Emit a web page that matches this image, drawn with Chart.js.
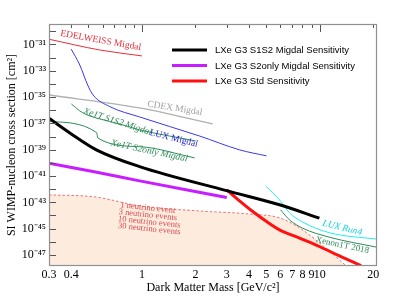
<!DOCTYPE html>
<html>
<head>
<meta charset="utf-8">
<script src="https://cdn.jsdelivr.net/npm/chart.js@4.4.0/dist/chart.umd.min.js"></script>
<style>
    html, body { margin: 0; padding: 0; background: #ffffff; }
</style>
</head>
<body>
<canvas id="limites" width="411" height="302"></canvas>
<script>
// masas en GeV/c^2, secciones eficaces en cm^2
var edelweiss_masa = [0.3, 0.58, 1.0];
var edelweiss_xs = [2.5e-31, 3.8e-32, 1.35e-32];

var lux_migdal_masa = [0.40, 0.447, 0.495, 0.531, 0.659, 0.97, 2.11, 3.54, 5.02];
var lux_migdal_xs = [4.4e-32, 2.75e-33, 8.3e-35, 1.45e-35, 1.9e-36, 3.1e-37, 1.1e-38, 9.8e-40, 3.4e-40];

var cdex_masa = [0.3, 0.97, 2.5];
var cdex_xs = [1.45e-35, 1.5e-36, 9.1e-38];

var xe1t_s1s2_masa = [0.401, 0.447, 0.508, 0.578, 0.749, 0.971, 1.43, 2.0];
var xe1t_s1s2_xs = [3.0e-36, 8.9e-37, 3.7e-37, 2.2e-37, 9.1e-38, 3.2e-38, 1.1e-38, 4.7e-39];

var xe1t_s2only_masa = [0.3, 0.556, 0.564, 0.971, 1.98];
var xe1t_s2only_xs = [1.4e-37, 2.0e-38, 7.9e-39, 1.7e-39, 2.4e-40];

var g3_s1s2_masa = [0.3, 0.393, 0.554, 0.97, 3.03, 5.94, 9.96];
var g3_s1s2_xs = [2.45e-37, 1.9e-38, 9.8e-40, 5.2e-41, 7.4e-43, 6.5e-44, 6.3e-45];

var g3_s2only_masa = [0.3, 0.53, 0.97, 3.0];
var g3_s2only_xs = [9.3e-41, 2.2e-41, 4.3e-42, 2.3e-43];

var g3_std_masa = [3.0, 3.54, 4.2, 5.0, 5.94, 7.7, 9.96, 12.9, 17.1];
var g3_std_xs = [8.9e-43, 1.3e-43, 2.0e-44, 3.6e-45, 8.1e-46, 1.9e-46, 4.4e-47, 8.5e-48, 1.55e-48];

var lux_run4_masa = [5.0, 5.94, 6.76, 8.0, 11.4, 20.9];
var lux_run4_xs = [1.6e-42, 1.55e-43, 1.6e-44, 3.2e-45, 4.8e-46, 1.6e-46];

var xenon1t_masa = [6.02, 6.76, 8.0, 11.4, 20.9];
var xenon1t_xs = [2.7e-44, 4.7e-45, 1.1e-45, 2.2e-46, 3.9e-47];

// suelo de neutrinos (1, 3, 10 y 30 eventos)
var nu1_masa = [0.3, 0.542, 0.971, 2.11, 4.03, 5.94, 7.69, 9.96, 14.1];
var nu1_xs = [3.7e-43, 2.6e-43, 5.4e-44, 2.2e-44, 1.3e-44, 6.6e-45, 1.15e-45, 8.3e-47, 1.5e-48];
var nu3_masa = [0.3, 0.542, 0.971, 2.11, 4.03, 5.94, 7.69, 9.96, 12.1];
var nu3_xs = [1.2e-43, 8.3e-44, 1.7e-44, 7.2e-45, 3.9e-45, 1.6e-45, 2.0e-46, 1.2e-47, 1.5e-48];
var nu10_masa = [0.3, 0.542, 0.971, 2.11, 4.03, 5.94, 7.69, 10.6];
var nu10_xs = [3.8e-44, 2.7e-44, 5.5e-45, 2.3e-45, 1.15e-45, 4.0e-46, 4.1e-47, 1.5e-48];
var nu30_masa = [0.3, 0.542, 0.971, 2.11, 4.03, 5.94, 7.69, 9.22];
var nu30_xs = [1.1e-44, 7.8e-45, 1.9e-45, 6.7e-46, 3.3e-46, 9.8e-47, 8.3e-48, 1.5e-48];

var x_ticks = [0.3, 0.4, 1, 2, 3, 4, 5, 6, 7, 8, 9, 10, 20];
var y_ticks = [1e-47, 1e-45, 1e-43, 1e-41, 1e-39, 1e-37, 1e-35, 1e-33, 1e-31];
var x_menores = [0.3, 0.4, 0.5, 0.6, 0.7, 0.8, 0.9, 2, 3, 4, 5, 6, 7, 8, 9, 20];
var x_mayores = [1, 10];

var etiquetas = [
    {texto: 'EDELWEISS Migdal', x: 0.586, y: 2.0e-31, ang: 10, color: '#e0303a', size: 9.5, italic: false},
    {texto: 'CDEX Migdal', x: 1.53, y: 1.4e-36, ang: 9, color: '#a0a0a0', size: 9.5, italic: false},
    {texto: 'LUX Migdal', x: 1.51, y: 7.2e-39, ang: 14, color: '#2424d8', size: 9.5, italic: false},
    {texto: 'Xe1T S1S2 Migdal', x: 0.73, y: 1.3e-37, ang: 18, color: '#2e8b57', size: 9.5, italic: true},
    {texto: 'Xe1T S2only Migdal', x: 1.10, y: 8.1e-40, ang: 12, color: '#2e8b57', size: 9.5, italic: true},
    {texto: 'LUX Run4', x: 13.4, y: 1.15e-45, ang: 14, color: '#10d0e0', size: 9.5, italic: true},
    {texto: 'Xenon1T 2018', x: 13.4, y: 5.4e-47, ang: 12, color: '#2e8b57', size: 9, italic: false},
    {texto: '1 neutrino event', x: 1.08, y: 3.8e-44, ang: 6, color: '#d84850', size: 8.5, italic: false},
    {texto: '3 neutrino events', x: 1.08, y: 1.1e-44, ang: 6, color: '#d84850', size: 8.5, italic: false},
    {texto: '10 neutrino events', x: 1.10, y: 3.2e-45, ang: 6, color: '#d84850', size: 8.5, italic: false},
    {texto: '30 neutrino events', x: 1.10, y: 9.5e-46, ang: 6, color: '#d84850', size: 8.5, italic: false}
];

var superindices = {'-': '\u207B', '0': '\u2070', '1': '\u00B9', '2': '\u00B2', '3': '\u00B3',
    '4': '\u2074', '5': '\u2075', '6': '\u2076', '7': '\u2077', '8': '\u2078', '9': '\u2079'};

function label_potencia(v) {
    var e = String(Math.round(Math.log10(v)));
    var s = '';
    for (var i = 0; i < e.length; i++) s += superindices[e[i]];
    return '10' + s;
}

function serie(masas, valores) {
    var puntos = [];
    for (var i = 0; i < masas.length; i++) {
        puntos.push({x: masas[i], y: valores[i]});
    }
    return puntos;
}

function linea(label, masas, valores, color, ancho, extra) {
    var ds = {
        label: label,
        data: serie(masas, valores),
        borderColor: color,
        backgroundColor: color,
        borderWidth: ancho,
        pointRadius: 0,
        cubicInterpolationMode: 'monotone',
        fill: false
    };
    for (var k in extra) ds[k] = extra[k];
    return ds;
}

var datasets = [
    linea('LXe G3 S1S2 Migdal Sensitivity', g3_s1s2_masa, g3_s1s2_xs, '#000000', 3, {leyenda: true}),
    linea('LXe G3 S2only Migdal Sensitivity', g3_s2only_masa, g3_s2only_xs, '#c81eff', 3, {leyenda: true}),
    linea('LXe G3 Std Sensitivity', g3_std_masa, g3_std_xs, '#ff1010', 3, {leyenda: true}),
    linea('EDELWEISS Migdal', edelweiss_masa, edelweiss_xs, '#e0303a', 1),
    linea('LUX Migdal', lux_migdal_masa, lux_migdal_xs, '#3838e8', 1),
    linea('CDEX Migdal', cdex_masa, cdex_xs, '#b0b0b0', 1.3),
    linea('Xe1T S1S2 Migdal', xe1t_s1s2_masa, xe1t_s1s2_xs, '#2e8b57', 1),
    linea('Xe1T S2only Migdal', xe1t_s2only_masa, xe1t_s2only_xs, '#2e8b57', 1),
    linea('LUX Run4', lux_run4_masa, lux_run4_xs, '#20eef0', 1),
    linea('Xenon1T 2018', xenon1t_masa, xenon1t_xs, '#2e8b57', 1),
    linea('1 neutrino event', nu1_masa, nu1_xs, '#e45058', 0.8,
        {borderDash: [2.5, 2], fill: 'start', backgroundColor: 'rgb(253,236,222)'}),
    linea('3 neutrino events', nu3_masa, nu3_xs, '#e45058', 0.8, {borderDash: [2.5, 2]}),
    linea('10 neutrino events', nu10_masa, nu10_xs, '#e45058', 0.8, {borderDash: [2.5, 2]}),
    linea('30 neutrino events', nu30_masa, nu30_xs, '#e45058', 0.8, {borderDash: [2.5, 2]})
];

var marco_plugin = {
    id: 'marco',
    afterDatasetsDraw: function (chart) {
        var ctx = chart.ctx;
        var area = chart.chartArea;
        var sx = chart.scales.x;
        var sy = chart.scales.y;
        ctx.save();

        // ticks hacia dentro
        ctx.strokeStyle = '#555555';
        ctx.lineWidth = 1;
        ctx.beginPath();
        x_menores.forEach(function (v) {
            var px = Math.round(sx.getPixelForValue(v)) + 0.5;
            ctx.moveTo(px, area.top);
            ctx.lineTo(px, area.top + 4);
        });
        x_mayores.forEach(function (v) {
            var px = Math.round(sx.getPixelForValue(v)) + 0.5;
            ctx.moveTo(px, area.top);
            ctx.lineTo(px, area.top + 8);
        });
        for (var e = -48; e <= -30; e++) {
            var py = Math.round(sy.getPixelForValue(Math.pow(10, e))) + 0.5;
            if (py < area.top || py > area.bottom) continue;
            ctx.moveTo(area.left, py);
            ctx.lineTo(area.left + 7, py);
        }
        ctx.stroke();

        ctx.strokeStyle = '#909090';
        ctx.lineWidth = 1.2;
        ctx.strokeRect(area.left + 0.5, area.top + 0.5, area.right - area.left - 1, area.bottom - area.top - 1);

        // etiquetas de las curvas
        etiquetas.forEach(function (et) {
            ctx.save();
            ctx.translate(sx.getPixelForValue(et.x), sy.getPixelForValue(et.y));
            ctx.rotate(et.ang * Math.PI / 180);
            ctx.font = (et.italic ? 'italic ' : '') + et.size + 'px "Liberation Serif"';
            ctx.fillStyle = et.color;
            ctx.textAlign = 'center';
            ctx.textBaseline = 'middle';
            ctx.fillText(et.texto, 0, 0);
            ctx.restore();
        });

        // leyenda
        var fila = 0;
        ctx.font = '9.5px "Liberation Sans"';
        ctx.textAlign = 'left';
        ctx.textBaseline = 'middle';
        chart.data.datasets.forEach(function (ds) {
            if (!ds.leyenda) return;
            var y = area.top + 26 + fila * 15.5;
            var x0 = area.right - 205;
            ctx.strokeStyle = ds.borderColor;
            ctx.lineWidth = 3;
            ctx.beginPath();
            ctx.moveTo(x0, y);
            ctx.lineTo(x0 + 35, y);
            ctx.stroke();
            ctx.fillStyle = '#000000';
            ctx.fillText(ds.label, x0 + 43, y + 0.5);
            fila++;
        });
        ctx.restore();
    }
};

var fuente_ejes = {family: '"Liberation Serif"', size: 12};

var chart = new Chart(document.getElementById('limites'), {
    type: 'line',
    data: {datasets: datasets},
    options: {
        responsive: false,
        animation: false,
        devicePixelRatio: 1,
        layout: {padding: {left: 0, top: 24, right: 34, bottom: 0}},
        plugins: {
            legend: {display: false},
            tooltip: {enabled: false}
        },
        scales: {
            x: {
                type: 'logarithmic',
                min: 0.3,
                max: 21,
                afterBuildTicks: function (scale) {
                    scale.ticks = x_ticks.map(function (v) { return {value: v}; });
                },
                afterFit: function (scale) { scale.height = 36; },
                grid: {display: false, drawTicks: false},
                border: {display: false},
                ticks: {
                    autoSkip: false,
                    maxRotation: 0,
                    padding: 2,
                    color: '#000000',
                    font: fuente_ejes,
                    callback: function (v) { return String(v); }
                },
                title: {
                    display: true,
                    text: 'Dark Matter Mass [GeV/c\u00B2]',
                    color: '#000000',
                    font: fuente_ejes,
                    padding: {top: 0, bottom: 7}
                }
            },
            y: {
                type: 'logarithmic',
                min: 1.45e-48,
                max: 3.6e-30,
                afterBuildTicks: function (scale) {
                    scale.ticks = y_ticks.map(function (v) { return {value: v}; });
                },
                afterFit: function (scale) { scale.width = 49; },
                grid: {display: false, drawTicks: false},
                border: {display: false},
                ticks: {
                    autoSkip: false,
                    padding: 3,
                    color: '#000000',
                    font: fuente_ejes,
                    callback: function (v) { return label_potencia(v); }
                },
                title: {
                    display: true,
                    text: 'SI WIMP-nucleon cross section [cm\u00B2]',
                    color: '#000000',
                    font: fuente_ejes,
                    padding: {top: 5, bottom: 0}
                }
            }
        }
    },
    plugins: [marco_plugin]
});
</script>
</body>
</html>
